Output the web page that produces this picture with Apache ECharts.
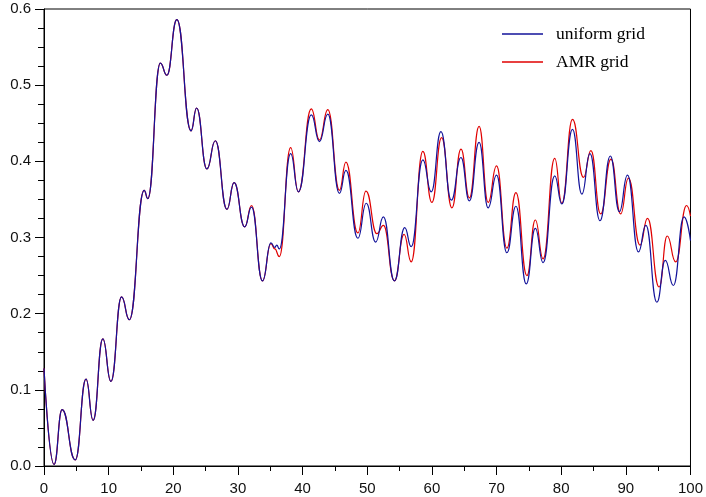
<!DOCTYPE html>
<html>
<head>
<meta charset="utf-8">
<script src="https://cdn.jsdelivr.net/npm/echarts@6/dist/echarts.min.js"></script>
<style>
  html, body { margin: 0; padding: 0; background: #fff; }
  #chart { width: 706px; height: 497px; }
</style>
</head>
<body>
<div id="chart"></div>
<script>
// values (local extrema of each curve)
const uniformX = [0, 1.55, 2.8, 4.84, 6.5, 7.6, 9.1, 10.35, 12.0, 13.2, 15.5, 16.05, 18.0, 19.0, 20.55,
  22.75, 23.6, 25.2, 26.5, 28.3, 29.4, 31.05, 32.1, 33.8, 35.1, 35.7, 36.0, 36.4, 38.15, 39.35, 41.35,
  42.6, 43.9, 45.7, 46.7, 48.55, 49.85, 51.3, 52.5, 54.2, 55.8, 56.8, 58.6, 59.9, 61.4, 63.0, 64.5,
  65.8, 67.3, 68.7, 70.0, 71.6, 73.0, 74.6, 76.0, 77.2, 79.0, 80.1, 81.75, 83.2, 84.45, 86.0, 87.6,
  89.0, 90.25, 91.95, 93.1, 94.8, 96.1, 97.35, 99.0, 100]
const uniformY = [0.128, 0.002, 0.074, 0.008, 0.114, 0.060, 0.167, 0.111, 0.222, 0.192, 0.362, 0.351, 0.529, 0.513, 0.586,
  0.440, 0.470, 0.390, 0.427, 0.337, 0.372, 0.314, 0.340, 0.243, 0.293, 0.287, 0.290, 0.285, 0.410, 0.360, 0.461,
  0.426, 0.462, 0.358, 0.388, 0.299, 0.345, 0.294, 0.327, 0.243, 0.313, 0.288, 0.402, 0.360, 0.439, 0.349, 0.405,
  0.348, 0.425, 0.339, 0.382, 0.280, 0.341, 0.239, 0.312, 0.267, 0.381, 0.344, 0.442, 0.357, 0.410, 0.322, 0.407,
  0.334, 0.382, 0.281, 0.316, 0.215, 0.270, 0.237, 0.327, 0.296]

const amrX = [0, 1.55, 2.8, 4.84, 6.5, 7.6, 9.1, 10.35, 12.0, 13.2, 15.5, 16.05, 18.0, 19.0, 20.55,
  22.75, 23.6, 25.2, 26.5, 28.3, 29.4, 31.05, 32.1, 33.8, 35.1, 35.7, 36.4, 38.15, 39.35, 41.35,
  42.6, 43.9, 45.7, 46.7, 48.55, 49.8, 51.5, 52.5, 54.2, 55.7, 56.8, 58.6, 60.0, 61.5, 63.1, 64.5,
  65.8, 67.3, 68.7, 70.0, 71.6, 73.0, 74.7, 76.0, 77.2, 79.0, 80.1, 81.75, 83.45, 84.6, 86.1, 87.7,
  89.2, 90.4, 92.2, 93.35, 95.15, 96.4, 97.7, 99.4, 100]
const amrY = [0.128, 0.002, 0.074, 0.008, 0.114, 0.060, 0.167, 0.111, 0.222, 0.192, 0.362, 0.351, 0.529, 0.513, 0.586,
  0.440, 0.470, 0.390, 0.427, 0.337, 0.372, 0.314, 0.342, 0.243, 0.292, 0.285, 0.275, 0.418, 0.360, 0.469,
  0.428, 0.468, 0.362, 0.399, 0.306, 0.361, 0.305, 0.316, 0.243, 0.304, 0.268, 0.413, 0.346, 0.431, 0.339, 0.416,
  0.352, 0.446, 0.346, 0.394, 0.286, 0.359, 0.250, 0.323, 0.272, 0.404, 0.345, 0.455, 0.379, 0.414, 0.331, 0.403,
  0.331, 0.378, 0.290, 0.325, 0.235, 0.302, 0.268, 0.342, 0.328]

const xTicks = { min: 0, max: 100, step: 10 }
const yTicks = { min: 0, max: 0.6, step: 0.1 }

const pairs = (xs, ys) => xs.map((x, i) => [x, ys[i]])

const chart = echarts.init(document.getElementById('chart'), null, { renderer: 'canvas' })

const axisFont = {
  color: '#111',
  fontFamily: 'Liberation Sans, Arial, sans-serif',
  fontSize: 15,
}

const option = {
  animation: false,
  backgroundColor: '#fff',
  grid: {
    left: 44,
    right: 15,
    top: 9,
    bottom: 31,
    show: true,
    borderColor: '#000',
    borderWidth: 1,
  },
  legend: {
    orient: 'vertical',
    left: 497,
    top: 20,
    itemWidth: 41,
    itemHeight: 1.5,
    itemGap: 10,
    icon: 'rect',
    data: ['uniform grid', 'AMR grid'],
    textStyle: {
      color: '#000',
      fontFamily: 'Liberation Serif, Times New Roman, serif',
      fontSize: 17.5,
      lineHeight: 18,
      padding: [0, 0, 0, 8],
    },
  },
  xAxis: {
    type: 'value',
    min: xTicks.min,
    max: xTicks.max,
    interval: xTicks.step,
    axisLine: { lineStyle: { color: '#000', width: 1 } },
    axisTick: { length: 9, lineStyle: { color: '#000' } },
    minorTick: { show: true, splitNumber: 2, length: 5, lineStyle: { color: '#000' } },
    splitLine: { show: false },
    axisLabel: { ...axisFont, margin: 15 },
  },
  yAxis: {
    type: 'value',
    min: yTicks.min,
    max: yTicks.max,
    interval: yTicks.step,
    axisLine: { show: true, lineStyle: { color: '#000', width: 1 } },
    axisTick: { show: true, length: 9, lineStyle: { color: '#000' } },
    minorTick: { show: true, splitNumber: 4, length: 6, lineStyle: { color: '#000' } },
    splitLine: { show: false },
    axisLabel: {
      ...axisFont,
      margin: 13,
      formatter: (v) => v.toFixed(1),
    },
  },
  series: [
    {
      name: 'AMR grid',
      type: 'line',
      data: pairs(amrX, amrY),
      showSymbol: false,
      symbol: 'none',
      smooth: 0.5,
      smoothMonotone: 'x',
      lineStyle: { color: '#e00000', width: 1.2 },
      itemStyle: { color: '#e00000' },
    },
    {
      name: 'uniform grid',
      type: 'line',
      data: pairs(uniformX, uniformY),
      showSymbol: false,
      symbol: 'none',
      smooth: 0.5,
      smoothMonotone: 'x',
      lineStyle: { color: '#12129a', width: 1.2 },
      itemStyle: { color: '#12129a' },
    },
  ],
}

chart.setOption(option)
</script>
</body>
</html>
